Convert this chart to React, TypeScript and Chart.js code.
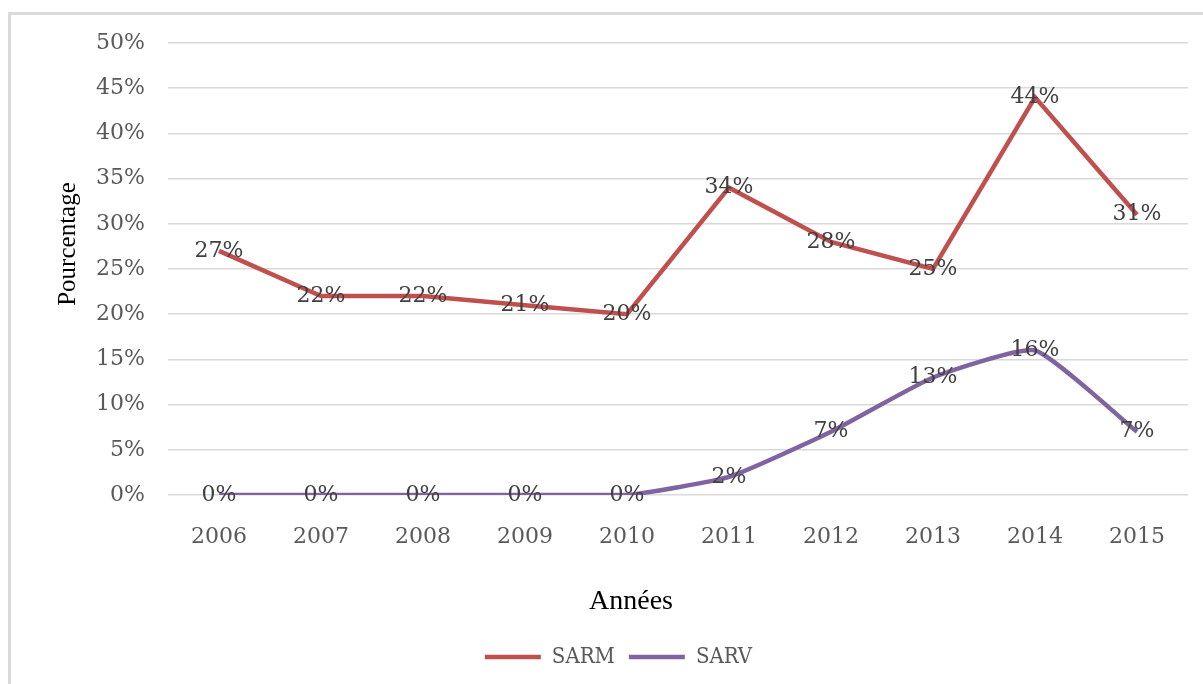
import { useEffect, useRef } from "react";
import { Chart, registerables } from "chart.js";

Chart.register(...registerables);

// Years on the horizontal axis
const years = ["2006", "2007", "2008", "2009", "2010", "2011", "2012", "2013", "2014", "2015"];
// Percentage of resistant isolates per year
const sarmValues = [27, 22, 22, 21, 20, 34, 28, 25, 44, 31];
const sarvValues = [0, 0, 0, 0, 0, 2, 7, 13, 16, 7];
// Vertical axis range (percent)
const yMin = 0;
const yMax = 50;
const yStep = 5;

const SERIF = '"DejaVu Serif", serif';
const TITLE_SERIF = '"Liberation Serif", "Times New Roman", serif';

// Writes each value as "NN%" centred on its point
const pointLabels = {
  id: "pointLabels",
  afterDatasetsDraw(chart: Chart) {
    const { ctx } = chart;
    ctx.save();
    ctx.font = `22px ${SERIF}`;
    ctx.fillStyle = "#404040";
    ctx.textAlign = "center";
    ctx.textBaseline = "middle";
    chart.data.datasets.forEach((ds, i) => {
      const meta = chart.getDatasetMeta(i);
      meta.data.forEach((el, j) => {
        ctx.fillText(`${ds.data[j]}%`, el.x, el.y);
      });
    });
    ctx.restore();
  },
};

// Axis captions, placed relative to the plot area
const axisCaptions = {
  id: "axisCaptions",
  afterDraw(chart: Chart) {
    const { ctx, chartArea } = chart;
    ctx.save();
    ctx.fillStyle = "#000000";
    ctx.textAlign = "center";
    ctx.textBaseline = "middle";

    ctx.font = `25px ${TITLE_SERIF}`;
    ctx.translate(chartArea.left - 100, chartArea.top + 201);
    ctx.rotate(-Math.PI / 2);
    ctx.fillText("Pourcentage", 0, 0);
    ctx.setTransform(1, 0, 0, 1, 0, 0);

    ctx.font = `28px ${TITLE_SERIF}`;
    ctx.fillText("Années", chartArea.left + 463, chartArea.bottom + 107);
    ctx.restore();
  },
};

export default function App() {
  const canvasRef = useRef<HTMLCanvasElement | null>(null);

  useEffect(() => {
    const canvas = canvasRef.current;
    if (!canvas) return;
    const chart = new Chart(canvas, {
      type: "line",
      data: {
        labels: years,
        datasets: [
          {
            label: "SARM",
            data: sarmValues,
            borderColor: "#C0504D",
            backgroundColor: "#C0504D",
            borderWidth: 4.5,
            pointRadius: 0,
            tension: 0,
          },
          {
            label: "SARV",
            data: sarvValues,
            borderColor: "#8064A2",
            backgroundColor: "#8064A2",
            borderWidth: 4.5,
            pointRadius: 0,
            tension: 0.15,
          },
        ],
      },
      options: {
        responsive: false,
        animation: false,
        layout: { padding: { left: 49, right: 15, top: 43, bottom: 6 } },
        plugins: {
          legend: {
            position: "bottom",
            labels: {
              usePointStyle: true,
              pointStyle: "line",
              pointStyleWidth: 56,
              boxHeight: 4,
              padding: 14,
              color: "#595959",
              font: { family: '"DejaVu Serif Condensed", "DejaVu Serif", serif', size: 22 },
            },
          },
          tooltip: { enabled: false },
        },
        scales: {
          x: {
            offset: true,
            grid: { display: false, drawTicks: false, offset: true },
            border: { display: false },
            ticks: {
              color: "#595959",
              padding: 29,
              font: { family: SERIF, size: 22 },
            },
            afterFit(scale: any) {
              scale.height = 137;
            },
          },
          y: {
            min: yMin,
            max: yMax,
            grid: { color: "#d9d9d9", lineWidth: 1.5, drawTicks: false },
            border: { display: false },
            ticks: {
              stepSize: yStep,
              color: "#595959",
              padding: 23,
              font: { family: SERIF, size: 22 },
              callback: (v: any) => `${v}%`,
            },
            afterFit(scale: any) {
              scale.width = 119;
            },
          },
        },
      },
      plugins: [pointLabels, axisCaptions],
    });
    return () => chart.destroy();
  }, []);

  return (
    <div>
      <div
        style={{
          position: "fixed",
          left: 8,
          top: 12,
          width: 1220,
          height: 700,
          border: "3px solid #dadada",
          boxSizing: "border-box",
        }}
      />
      <canvas
        ref={canvasRef}
        width={1203}
        height={684}
        style={{ position: "fixed", left: 0, top: 0, width: 1203, height: 684 }}
      />
    </div>
  );
}
